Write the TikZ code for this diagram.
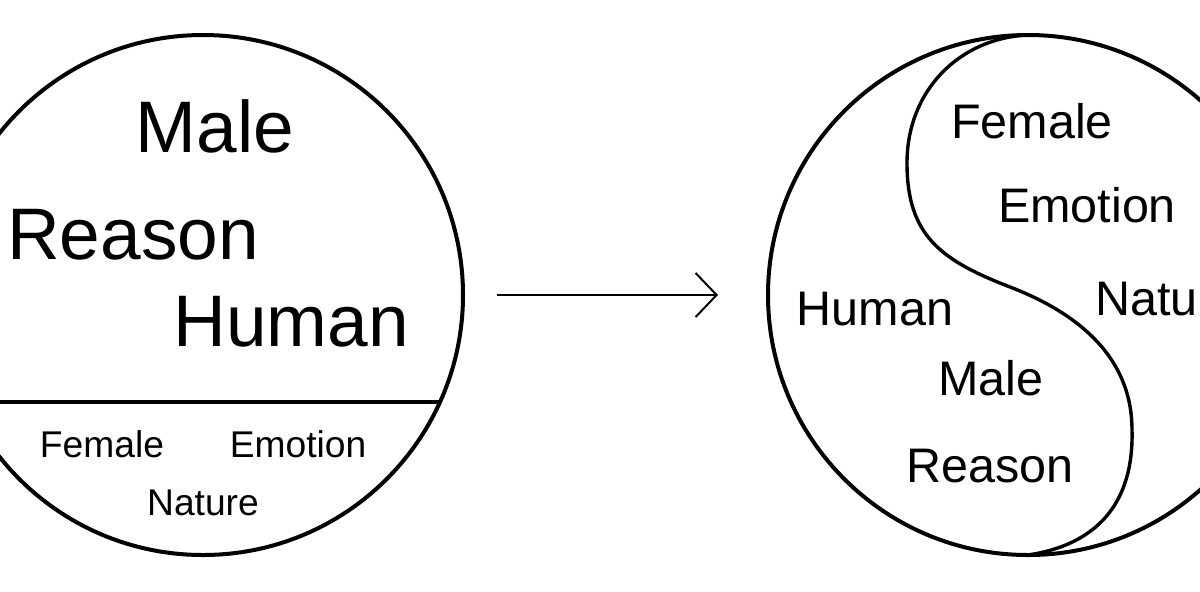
\documentclass[tikz,border=0pt]{standalone}
\usepackage{fontspec}
\setmainfont{Liberation Sans}
\usetikzlibrary{arrows.meta}

\begin{document}
\begin{tikzpicture}[x=0.5pt, y=-0.5pt,
        ring/.style={line width=2pt},
        bigword/.style={anchor=base, inner sep=0pt, font=\fontsize{36.5}{40}\selectfont},
        smallword/.style={anchor=base, inner sep=0pt, font=\fontsize{18.6}{20}\selectfont},
        midword/.style={anchor=base, inner sep=0pt, font=\fontsize{24.25}{28}\selectfont}]
                \clip (0,0) rectangle (1200,591);
                \coordinate (cL) at (203,295);
                \coordinate (cR) at (1028,295);

                % left circle with its dividing line
                \draw[ring] (cL) circle[radius=130pt];
                \begin{scope}
                    \clip (cL) circle[radius=130pt];
                    \draw[line width=1.8pt] (-100,402) -- (480,402);
                \end{scope}

                % words above the line
                \node[bigword] (maleL) at (215,152) {Male};
                \node[bigword] (reasonL) at (133,259) {Reason};
                \node[bigword] (humanL) at (291,346) {Human};

                % words below the line
                \node[smallword] (femaleL) at (102,457) {Female};
                \node[smallword] (emotionL) at (298,457) {Emotion};
                \node[smallword] (natureL) at (203,515) {Nature};

                % arrow
                \coordinate (tail) at (497,295);
                \coordinate (tip) at (718,295);
                \draw[line width=1pt, -{Straight Barb[length=10.5pt, width=22pt]}] (tail) -- (tip);

                % right circle with the s-curve
                \draw[ring] (cR) circle[radius=130pt];
                \draw[line width=1.7pt] (1028,35) .. controls (960,38) and (907,90) .. (907,163)
                    .. controls (907,235) and (940,260) .. (1010,287)
                    .. controls (1075,312) and (1132,355) .. (1132,430)
                    .. controls (1134,505) and (1095,545) .. (1028,555);

                % words in the right circle
                \node[midword] (femaleR) at (1032,138) {Female};
                \node[midword] (emotionR) at (1087,222) {Emotion};
                \node[midword, anchor=base west] (natureR) at (1095,315) {Nature};
                \node[midword] (humanR) at (875,325) {Human};
                \node[midword] (maleR) at (991,395) {Male};
                \node[midword] (reasonR) at (990,482) {Reason};
\end{tikzpicture}
\end{document}
